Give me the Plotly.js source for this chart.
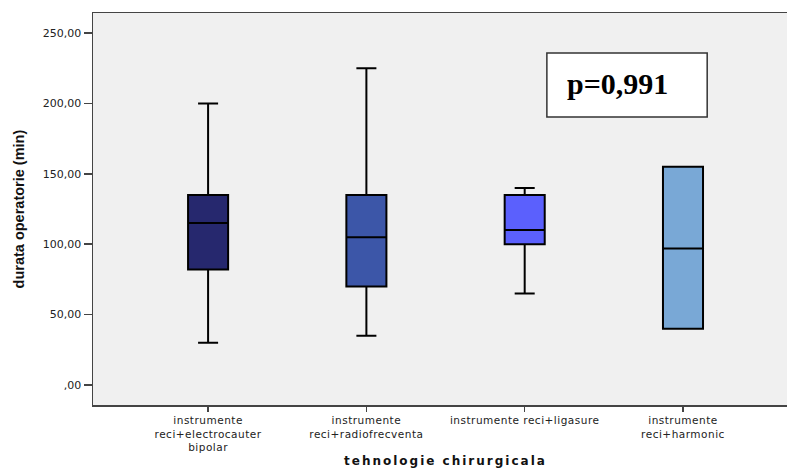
<!DOCTYPE html>
<html>
<head>
<meta charset="utf-8">
<script src="https://cdn.plot.ly/plotly-3.0.1.min.js"></script>
<style>
html,body{margin:0;padding:0;overflow:hidden;background:#fff;}
#chart{width:787px;height:468px;}
.xtick text{letter-spacing:0.5px;}
.annotation[data-index="1"] text{letter-spacing:2px;}
</style>
</head>
<body>
<div id="chart"></div>
<script>
const categories = [
  "instrumente<br>reci+electrocauter<br>bipolar",
  "instrumente<br>reci+radiofrecventa",
  "instrumente reci+ligasure",
  "instrumente<br>reci+harmonic"
];
const minValues    = [30, 35, 65, 40];
const q1Values     = [82, 70, 100, 40];
const medianValues = [115, 105, 110, 97];
const q3Values     = [135, 135, 135, 155];
const maxValues    = [200, 225, 140, 155];
const boxColors    = ["#26286e", "#3c56a8", "#5b60fd", "#79a8d6"];
const yTickValues  = [0, 50, 100, 150, 200, 250];
const yTickLabels  = [",00", "50,00", "100,00", "150,00", "200,00", "250,00"];
const xTitle = "tehnologie chirurgicala";
const yTitle = "durata operatorie (min)";
const pLabel = "p=0,991";

const traces = categories.map((c, i) => ({
  type: "box",
  x: [c],
  q1: [q1Values[i]],
  median: [medianValues[i]],
  q3: [q3Values[i]],
  lowerfence: [minValues[i]],
  upperfence: [maxValues[i]],
  fillcolor: boxColors[i],
  line: {color: "#000000", width: 2},
  width: 0.253,
  whiskerwidth: 0.5,
  boxpoints: false,
  hoverinfo: "skip",
  showlegend: false
}));

const layout = {
  width: 787,
  height: 468,
  margin: {l: 93, r: 0, t: 13, b: 63},
  paper_bgcolor: "#ffffff",
  plot_bgcolor: "#f0f0f0",
  font: {family: "DejaVu Sans, sans-serif", color: "#222"},
  boxmode: "overlay",
  xaxis: {
    type: "category",
    categoryorder: "array",
    categoryarray: categories,
    range: [-0.727, 3.657],
    showline: true, mirror: true, linecolor: "#444", linewidth: 1.5,
    ticks: "outside", ticklen: 5, tickcolor: "#444", tickwidth: 1.5,
    tickfont: {size: 10.5, color: "#222", family: "DejaVu Sans, sans-serif"},
    showgrid: false, zeroline: false
  },
  yaxis: {
    range: [-14.2, 264.2],
    tickvals: yTickValues,
    ticktext: yTickLabels,
    showline: true, mirror: false, linecolor: "#444", linewidth: 1.5,
    ticks: "outside", ticklen: 8, tickcolor: "#444", tickwidth: 1.5,
    tickfont: {size: 11, color: "#222", family: "DejaVu Sans, sans-serif"},
    showgrid: false, zeroline: false
  },
  shapes: [{
    type: "rect", xref: "paper", yref: "paper",
    x0: 0.654, x1: 0.885, y0: 0.735, y1: 0.898,
    fillcolor: "#ffffff", line: {color: "#333", width: 1.5}, layer: "above"
  }],
  annotations: [
    {
      xref: "paper", yref: "paper", x: 0.680, y: 0.819,
      xanchor: "left", yanchor: "middle",
      text: "<b>" + pLabel + "</b>",
      showarrow: false,
      font: {family: "Liberation Serif, Times New Roman, serif", size: 30, color: "#000"}
    },
    {
      xref: "paper", yref: "paper", x: 0.5086, y: -0.142,
      xanchor: "center", yanchor: "middle",
      text: xTitle, showarrow: false,
      font: {family: "DejaVu Sans, sans-serif", size: 12, color: "#111", weight: "bold"}
    },
    {
      xref: "paper", yref: "paper", x: -0.106, y: 0.5,
      xanchor: "center", yanchor: "middle", textangle: -90,
      text: yTitle, showarrow: false,
      font: {family: "Liberation Sans Narrow, Arial Narrow, Liberation Sans, sans-serif", size: 14.5, color: "#111", weight: "bold"}
    }
  ]
};

Plotly.newPlot("chart", traces, layout, {displayModeBar: false, staticPlot: true});
</script>
</body>
</html>
